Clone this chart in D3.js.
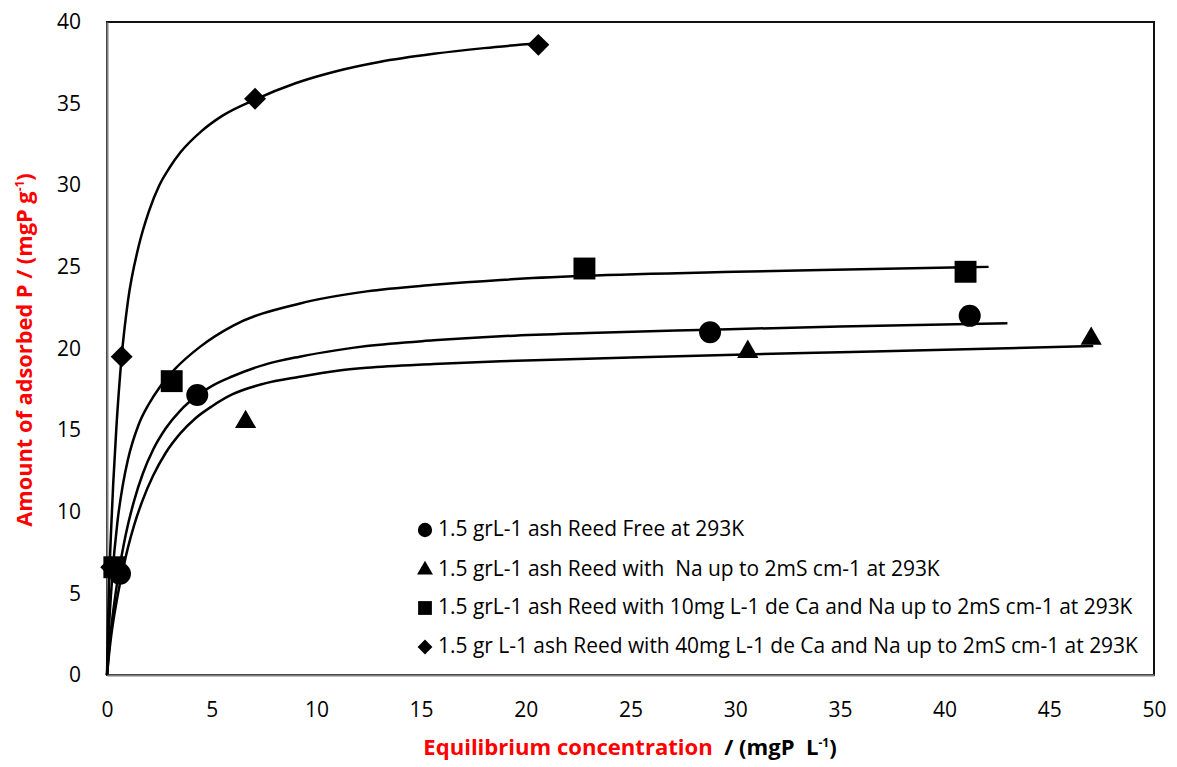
<!DOCTYPE html>
<html>
<head>
<meta charset="utf-8">
<script src="https://cdnjs.cloudflare.com/ajax/libs/d3/7.8.5/d3.min.js"></script>
<style>
  body { margin: 0; background: #fff; }
  text { font-family: "Open Sans", "Liberation Sans", sans-serif; }
</style>
</head>
<body>
<div id="chart"></div>
<script>
// tick labels
var xTicks = [0, 5, 10, 15, 20, 25, 30, 35, 40, 45, 50];
var yTicks = [0, 5, 10, 15, 20, 25, 30, 35, 40];

// measured points (equilibrium conc., adsorbed P)
var freeC = [0.62, 4.31, 28.8, 41.2];
var freeQ = [6.2, 17.15, 21.0, 22.0];
var naC = [0.45, 6.62, 30.6, 47.0];
var naQ = [6.4, 15.5, 19.8, 20.6];
var ca10C = [0.35, 3.09, 22.8, 41.0];
var ca10Q = [6.6, 18.0, 24.9, 24.7];
var ca40C = [0.2, 0.7, 7.07, 20.6];
var ca40Q = [6.6, 19.5, 35.3, 38.6];

// fitted curves
var freeFitC = [0, 0.1, 0.2, 0.38, 0.6, 0.8, 1.0, 1.3, 1.7, 2.2, 2.8, 3.5, 4.3, 5.0, 6.0, 7.5, 9.2, 11, 12.4, 15.6, 18.8, 23, 28.8, 35, 43];
var freeFitQ = [0, 1.6, 2.9, 4.7, 6.6, 8.0, 9.2, 10.7, 12.3, 13.8, 15.1, 16.2, 17.1, 17.7, 18.3, 19.0, 19.5, 19.9, 20.15, 20.5, 20.75, 20.95, 21.15, 21.35, 21.55];
var naFitC = [0, 0.1, 0.2, 0.5, 0.8, 1.0, 1.3, 1.7, 2.2, 2.8, 3.5, 4.2, 5.0, 6.0, 7.5, 9.2, 11, 12.4, 15.6, 18.8, 25, 30, 35, 40, 47.1];
var naFitQ = [0, 1.3, 2.4, 4.8, 6.7, 7.8, 9.2, 10.7, 12.2, 13.6, 14.8, 15.7, 16.45, 17.2, 17.85, 18.27, 18.64, 18.82, 19.05, 19.22, 19.45, 19.62, 19.77, 19.92, 20.15];
var ca10FitC = [0, 0.1, 0.25, 0.5, 0.75, 1.0, 1.5, 2.0, 2.5, 3.25, 4.44, 6.03, 9.22, 12.4, 15.6, 18.8, 22.8, 30, 36, 42.1];
var ca10FitQ = [0, 3.0, 6.0, 9.4, 11.6, 13.2, 15.3, 16.6, 17.6, 18.75, 20.1, 21.4, 22.76, 23.5, 23.9, 24.2, 24.45, 24.7, 24.85, 25.0];
var ca40FitC = [0, 0.05, 0.1, 0.2, 0.3, 0.45, 0.7, 1.0, 1.5, 2.0, 2.5, 3.0, 3.5, 4.5, 5.5, 7.07, 9, 11, 13, 15.6, 18, 20.6];
var ca40FitQ = [0, 3.2, 5.6, 9.0, 11.8, 15.2, 19.5, 22.9, 26.2, 28.4, 30.0, 31.1, 32.0, 33.3, 34.25, 35.25, 36.25, 37.0, 37.55, 38.05, 38.4, 38.7];

var legendLabels = [
  "1.5 grL-1 ash Reed Free at 293K",
  "1.5 grL-1 ash Reed with  Na up to 2mS cm-1 at 293K",
  "1.5 grL-1 ash Reed with 10mg L-1 de Ca and Na up to 2mS cm-1 at 293K",
  "1.5 gr L-1 ash Reed with 40mg L-1 de Ca and Na up to 2mS cm-1 at 293K"
];
var symbols = [d3.symbolCircle, d3.symbolTriangle, d3.symbolSquare, d3.symbolSquare];

var width = 1177, height = 767;
var svg = d3.select("#chart").append("svg")
  .attr("width", width)
  .attr("height", height);

var x = d3.scaleLinear().domain([0, 50]).range([107, 1154]);
var y = d3.scaleLinear().domain([0, 40]).range([675, 22]);

// plot frame
svg.append("rect")
  .attr("x", x(0)).attr("y", y(40))
  .attr("width", x(50) - x(0)).attr("height", y(0) - y(40))
  .attr("fill", "none").attr("stroke", "#111").attr("stroke-width", 2);

// axes (left and bottom are grey)
var xAxis = svg.append("g").attr("transform", "translate(0," + y(0) + ")")
  .call(d3.axisBottom(x).tickValues(xTicks).tickSize(0).tickPadding(27).tickFormat(d3.format("d")));
var yAxis = svg.append("g").attr("transform", "translate(" + x(0) + ",0)")
  .call(d3.axisLeft(y).tickValues(yTicks).tickSize(0).tickPadding(26).tickFormat(d3.format("d")));
[xAxis, yAxis].forEach(function(a) {
  a.select(".domain").attr("stroke", "#7f7f7f").attr("stroke-width", 2);
  a.selectAll("text").attr("font-size", 21).attr("fill", "#000")
    .style("font-family", "'Open Sans', sans-serif");
});

// fit curves
var line = d3.line()
  .x(function(d) { return x(d[0]); })
  .y(function(d) { return y(d[1]); })
  .curve(d3.curveMonotoneX);

var fits = [[freeFitC, freeFitQ], [naFitC, naFitQ], [ca10FitC, ca10FitQ], [ca40FitC, ca40FitQ]];
fits.forEach(function(f) {
  svg.append("path")
    .datum(d3.zip(f[0], f[1]))
    .attr("d", line)
    .attr("fill", "none")
    .attr("stroke", "#000")
    .attr("stroke-width", 2.5);
});

// markers (diamond = rotated square)
var series = [[freeC, freeQ], [naC, naQ], [ca10C, ca10Q], [ca40C, ca40Q]];
var sizes = [380, 195, 480, 240];
series.forEach(function(s, i) {
  svg.append("g").selectAll("path")
    .data(d3.zip(s[0], s[1]))
    .enter().append("path")
    .attr("transform", function(d) { return "translate(" + x(d[0]) + "," + y(d[1]) + ")" + (i == 3 ? " rotate(45)" : ""); })
    .attr("d", d3.symbol().type(symbols[i]).size(sizes[i]))
    .attr("fill", "#000");
});

// legend
var legY = [530, 570, 608, 647];
var leg = svg.append("g");
var legSizes = [160, 110, 190, 110];
legendLabels.forEach(function(lbl, i) {
  leg.append("path")
    .attr("transform", "translate(425," + legY[i] + ")" + (i == 3 ? " rotate(45)" : ""))
    .attr("d", d3.symbol().type(symbols[i]).size(legSizes[i]))
    .attr("fill", "#000");
  leg.append("text")
    .attr("class", "leg")
    .attr("x", 438).attr("y", legY[i] + 6)
    .attr("font-size", 18)
    .style("white-space", "pre")
    .text(lbl);
});
// scale legend font so the longest row spans like the reference
var longest = leg.selectAll("text.leg").nodes()[3].getComputedTextLength();
leg.selectAll("text.leg").attr("font-size", 18 * 700 / longest);

// axis titles
var xt = svg.append("text")
  .attr("x", 630).attr("y", 755)
  .attr("text-anchor", "middle")
  .attr("font-weight", "bold")
  .attr("font-size", 18)
  .style("white-space", "pre");
xt.append("tspan").attr("fill", "#ff0000").text("Equilibrium concentration");
xt.append("tspan").attr("fill", "#000").text("  / (mgP  L");
xt.append("tspan").attr("fill", "#000").attr("font-size", 12).attr("dy", -8).text("-1");
xt.append("tspan").attr("fill", "#000").attr("dy", 8).text(")");
var xw = xt.node().getComputedTextLength();
xt.attr("font-size", 18 * 416 / xw);

var yt = svg.append("text")
  .attr("transform", "translate(32,350) rotate(-90)")
  .attr("text-anchor", "middle")
  .attr("font-weight", "bold")
  .attr("font-size", 18)
  .attr("fill", "#ff0000")
  .style("white-space", "pre");
yt.append("tspan").text("Amount of adsorbed P / (mgP g");
yt.append("tspan").attr("font-size", 12).attr("dy", -8).text("-1");
yt.append("tspan").attr("dy", 8).text(")");
var yw = yt.node().getComputedTextLength();
yt.attr("font-size", 18 * 356 / yw);
</script>
</body>
</html>
